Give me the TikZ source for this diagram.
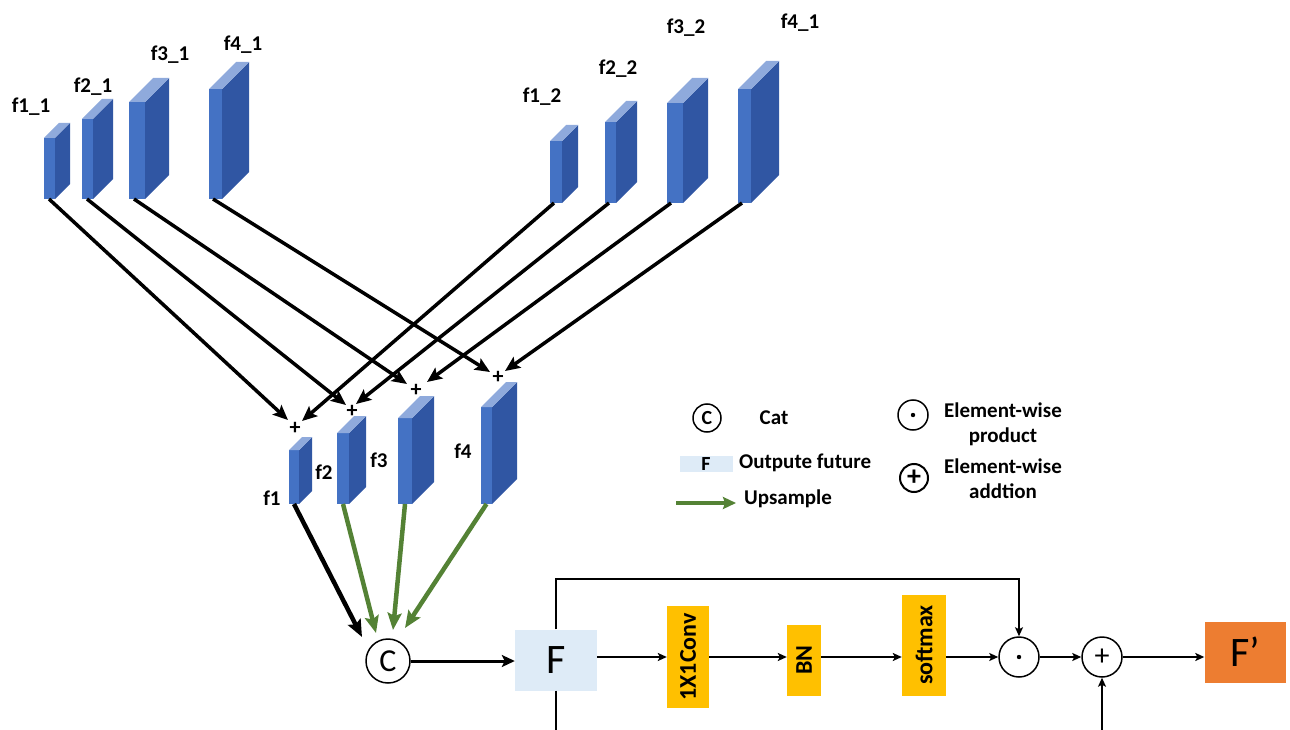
\documentclass[tikz,border=0pt]{standalone}
\usepackage{fontspec}
\setmainfont{Carlito}
\usetikzlibrary{arrows.meta,calc}
\definecolor{frontblue}{HTML}{4472C4}
\definecolor{sideblue}{HTML}{3056A3}
\definecolor{topblue}{HTML}{8FAADC}
\definecolor{upgreen}{HTML}{548235}
\definecolor{featblue}{HTML}{DEEBF7}
\definecolor{opyellow}{HTML}{FFC000}
\definecolor{outorange}{HTML}{ED7D31}

% a feature map drawn as a thin prism: name, x, bottom y, width, height, depth
\newcommand\prismblock[6]{%
  \node[face, minimum width=#4pt, minimum height=#5pt, anchor=south west] (#1) at (#2,#3) {};
  \fill[sideblue] (#1.north east) -- ++(#6,-#6) -- ++(0,#5) -- (#1.south east) -- cycle;
  \fill[topblue] (#1.north west) -- ++(#6,-#6) -- ++(#4,0) -- (#1.north east) -- cycle;
}

\begin{document}
\begin{tikzpicture}[x=1pt,y=-1pt,
  face/.style={fill=frontblue, inner sep=0pt, outer sep=0pt},
  lab/.style={font=\bfseries\fontsize{21}{21}\selectfont, inner sep=0pt},
  smallplus/.style={font=\bfseries\fontsize{22}{22}\selectfont, inner sep=0pt},
  merge/.style={line width=3.5pt, -{Stealth[length=15pt,width=13pt,inset=3pt]}},
  catin/.style={line width=4.5pt, -{Stealth[length=17pt,width=14pt,inset=3pt]}},
  upin/.style={catin, draw=upgreen},
  flow/.style={line width=1.6pt, -{Stealth[length=9pt,width=8pt,inset=2pt]}},
  opbox/.style={fill=opyellow, inner sep=0pt, font=\bfseries\fontsize{24}{24}\selectfont},
  opcirc/.style={circle, draw, line width=1.5pt, inner sep=0pt},
  legtext/.style={font=\bfseries\fontsize{21}{25}\selectfont, inner sep=0pt, align=center}
]
\useasboundingbox (0,0) rectangle (1290,730);

% ---- first group of feature maps ----
\prismblock{b11}{44}{199}{11}{61}{15}
\prismblock{b21}{82}{199}{11}{80}{20}
\prismblock{b31}{129}{199}{16}{97}{24}
\prismblock{b41}{209}{199}{13}{110}{27}
\node[lab] (l11) at (31,107) {f1\_1};
\node[lab] (l21) at (93,87) {f2\_1};
\node[lab] (l31) at (170,55) {f3\_1};
\node[lab] (l41) at (243,45) {f4\_1};

% ---- second group of feature maps ----
\prismblock{b12}{550}{203}{12}{62}{16}
\prismblock{b22}{605}{203}{11}{81}{21}
\prismblock{b32}{667}{203}{16}{100}{25}
\prismblock{b42}{738}{203}{13}{114}{28}
\node[lab] (l12) at (542,97) {f1\_2};
\node[lab] (l22) at (618,69) {f2\_2};
\node[lab] (l32) at (686,28) {f3\_2};
\node[lab] (l42) at (800,23) {f4\_1};

% ---- fused feature maps ----
\prismblock{m1}{289}{504}{10}{54}{13}
\prismblock{m2}{337}{504}{12}{71}{17}
\prismblock{m3}{398}{504}{14}{86}{22}
\prismblock{m4}{481}{504}{11}{97}{25}
\node[lab] (lm1) at (272,498) {f1};
\node[lab] (lm2) at (324,472) {f2};
\node[lab] (lm3) at (379,460) {f3};
\node[lab] (lm4) at (463,451) {f4};

\node[smallplus] (p1) at (295,428) {+};
\node[smallplus] (p2) at (352,411) {+};
\node[smallplus] (p3) at (416,390) {+};
\node[smallplus] (p4) at (498,377) {+};

% element-wise sums of matching levels
\draw[merge] ($(b11.south west)+(5,0)$) -- ($(p1)+(-7,-8)$);
\draw[merge] ($(b21.south west)+(5,0)$) -- ($(p2)+(-6,-6)$);
\draw[merge] ($(b31.south west)+(5,0)$) -- ($(p3)+(-9,-6)$);
\draw[merge] ($(b41.south west)+(4,0)$) -- ($(p4)+(-8,-5)$);
\draw[merge] ($(b12.south west)+(4,0)$) -- ($(p1)+(7,-7)$);
\draw[merge] ($(b22.south west)+(4,0)$) -- ($(p2)+(4,-7)$);
\draw[merge] ($(b32.south west)+(4,0)$) -- ($(p3)+(11,-8)$);
\draw[merge] ($(b42.south west)+(4,0)$) -- ($(p4)+(7,-6)$);

% ---- concatenation ----
\node[opcirc, minimum size=44pt, font=\fontsize{32}{32}\selectfont] (C) at (388,661) {C};
\draw[catin] (m1.south) -- ($(C)+(-26,-24)$);
\draw[upin] (m2.south) -- ($(C)+(-12,-28)$);
\draw[upin] (m3.south) -- ($(C)+(5,-31)$);
\draw[upin] (m4.south) -- ($(C)+(17,-33)$);

\node[fill=featblue, minimum width=82pt, minimum height=61pt, inner sep=0pt,
      font=\fontsize{42}{42}\selectfont] (F) at (556,660) {F};
\draw[line width=3pt, -{Stealth[length=13pt,width=12pt,inset=3pt]}] (C.east) -- (C.east -| F.west);

% ---- attention branch ----
\node[opbox, minimum width=42pt, minimum height=102pt] (conv) at (688,657) {\rotatebox{90}{1X1Conv}};
\node[opbox, minimum width=34pt, minimum height=71pt] (bn) at (804,660) {\rotatebox{90}{BN}};
\node[opbox, minimum width=44pt, minimum height=101pt] (sm) at (924,645) {\rotatebox{90}{softmax}};
\node[opcirc, minimum size=40pt] (dotn) at (1019,657) {};
\fill (dotn.center) circle (2.2pt);
\node[opcirc, minimum size=40pt, font=\fontsize{30}{30}\selectfont] (addn) at (1102,657) {+};
\node[fill=outorange, minimum width=81pt, minimum height=61pt, inner sep=0pt,
      font=\fontsize{42}{42}\selectfont] (Fo) at (1245,652) {F’};

\draw[flow] (F.east |- dotn) -- (conv.west |- dotn);
\draw[flow] (conv.east |- dotn) -- (bn.west |- dotn);
\draw[flow] (bn.east |- dotn) -- (sm.west |- dotn);
\draw[flow] (sm.east |- dotn) -- (dotn.west);
\draw[flow] (dotn.east) -- (addn.west);
\draw[flow] (addn.east) -- (Fo.west |- addn);

% skip paths around the branch
\coordinate (loopy) at (556,579);
\coordinate (lowy) at (556,731);
\draw[flow] (F.north) -- (F.north |- loopy) -| (dotn.north);
\draw[line width=1.6pt] (F.south) -- (F.south |- lowy);
\draw[flow] (addn.south |- lowy) -- (addn.south);

% ---- legend ----
\node[opcirc, line width=1.5pt, minimum size=28pt, font=\bfseries\fontsize{20}{20}\selectfont] (legC) at (707,418) {C};
\node[legtext, anchor=center] (legCt) at (774,418) {Cat};
\node[fill=featblue, minimum width=53pt, minimum height=16pt, inner sep=0pt,
      font=\bfseries\fontsize{20}{20}\selectfont] (legF) at (706,464) {F};
\node[legtext, anchor=west] (legFt) at (739,463) {Outpute future};
\coordinate (legA) at (676,503);
\draw[upgreen, line width=4.5pt, -{Stealth[length=13pt,width=12pt,inset=2pt]}] (legA) -- ++(60,0) coordinate (legB);
\node[legtext, anchor=west] (legUt) at (744,499) {Upsample};
\node[opcirc, line width=1.5pt, minimum size=30pt] (legD) at (913,415) {};
\fill (legD.center) circle (2.2pt);
\node[legtext] (legDt) at (1003,424) {Element-wise\\product};
\node[opcirc, line width=2pt, minimum size=28pt, font=\bfseries\fontsize{28}{28}\selectfont] (legP) at (914,478) {+};
\node[legtext] (legPt) at (1003,479) {Element-wise\\addtion};
\end{tikzpicture}
\end{document}
